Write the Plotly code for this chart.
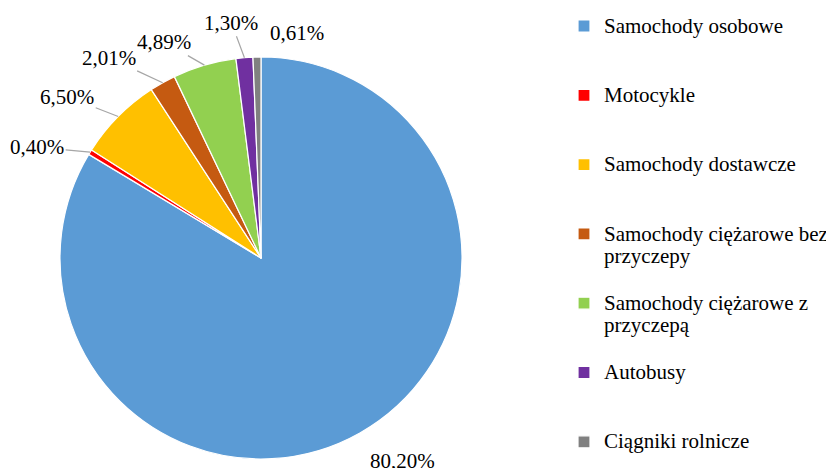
import math
import plotly.graph_objects as go

categories = [
    "Samochody osobowe",
    "Motocykle",
    "Samochody dostawcze",
    "Samochody ciężarowe bez przyczepy",
    "Samochody ciężarowe z przyczepą",
    "Autobusy",
    "Ciągniki rolnicze",
]
legend_lines = [
    ["Samochody osobowe"],
    ["Motocykle"],
    ["Samochody dostawcze"],
    ["Samochody ciężarowe bez", "przyczepy"],
    ["Samochody ciężarowe z", "przyczepą"],
    ["Autobusy"],
    ["Ciągniki rolnicze"],
]
values = [80.20, 0.40, 6.50, 2.01, 4.89, 1.30, 0.61]
value_labels = ["80,20%", "0,40%", "6,50%", "2,01%", "4,89%", "1,30%", "0,61%"]
colors = ["#5B9BD5", "#FF0000", "#FFC000", "#C55A11", "#92D050", "#7030A0", "#808080"]

# label placement style: pixel offset of each label from its slice edge, and whether a leader line is drawn
label_offsets = [(43, 28), (-53, -5), (-51, -20), (-54, -25), (-40, -23), (-13, -35), (40, -24)]
label_leader = [False, True, True, True, True, True, False]

FONT = "Liberation Serif, Times New Roman, serif"
# the page body has an 8px default margin, so the figure is sized to fit the window
W, H = 826, 460
CX, CY, R = 253, 250, 201


def legend_label(lines):
    parts = ["<span style='font-size:21px'>%s</span>" % l for l in lines]
    while len(parts) < 3:
        parts.append("&nbsp;")
    return "<br>".join(parts)


labels = [legend_label(l) for l in legend_lines]

fig = go.Figure(
    go.Pie(
        labels=labels,
        values=values,
        textinfo="none",
        marker=dict(colors=colors, line=dict(color="#FFFFFF", width=1.2)),
        sort=False,
        direction="clockwise",
        rotation=0,
        domain=dict(x=[(CX - R) / W, (CX + R) / W], y=[1 - (CY + R) / H, 1 - (CY - R) / H]),
        hovertext=categories,
        hoverinfo="text+percent",
    )
)

# data labels anchored on each slice's outer edge at its mid angle
total = sum(values)
cum = 0.0
annotations = []
for v, txt, (ox, oy), lead in zip(values, value_labels, label_offsets, label_leader):
    mid = (cum + v / 2) / total * 2 * math.pi
    cum += v
    ex = CX + R * math.sin(mid)
    ey = CY - R * math.cos(mid)
    annotations.append(
        dict(
            x=ex / W,
            y=1 - ey / H,
            xref="paper",
            yref="paper",
            text=txt,
            showarrow=True,
            arrowhead=0,
            arrowwidth=1.2,
            arrowcolor="#A6A6A6" if lead else "rgba(0,0,0,0)",
            standoff=0,
            ax=ox,
            ay=oy,
            font=dict(family=FONT, size=21, color="#000000"),
        )
    )

fig.update_layout(
    width=W,
    height=H,
    margin=dict(l=0, r=0, t=0, b=0, autoexpand=False),
    paper_bgcolor="#FFFFFF",
    plot_bgcolor="#FFFFFF",
    font=dict(family=FONT, color="#000000"),
    showlegend=True,
    annotations=annotations,
    legend=dict(
        x=556 / W,
        y=0.999,
        xanchor="left",
        yanchor="top",
        valign="top",
        maxheight=1,
        font=dict(family=FONT, size=17, color="#000000"),
        bgcolor="rgba(0,0,0,0)",
        itemclick=False,
        itemdoubleclick=False,
    ),
)

fig.write_html("out.html")
